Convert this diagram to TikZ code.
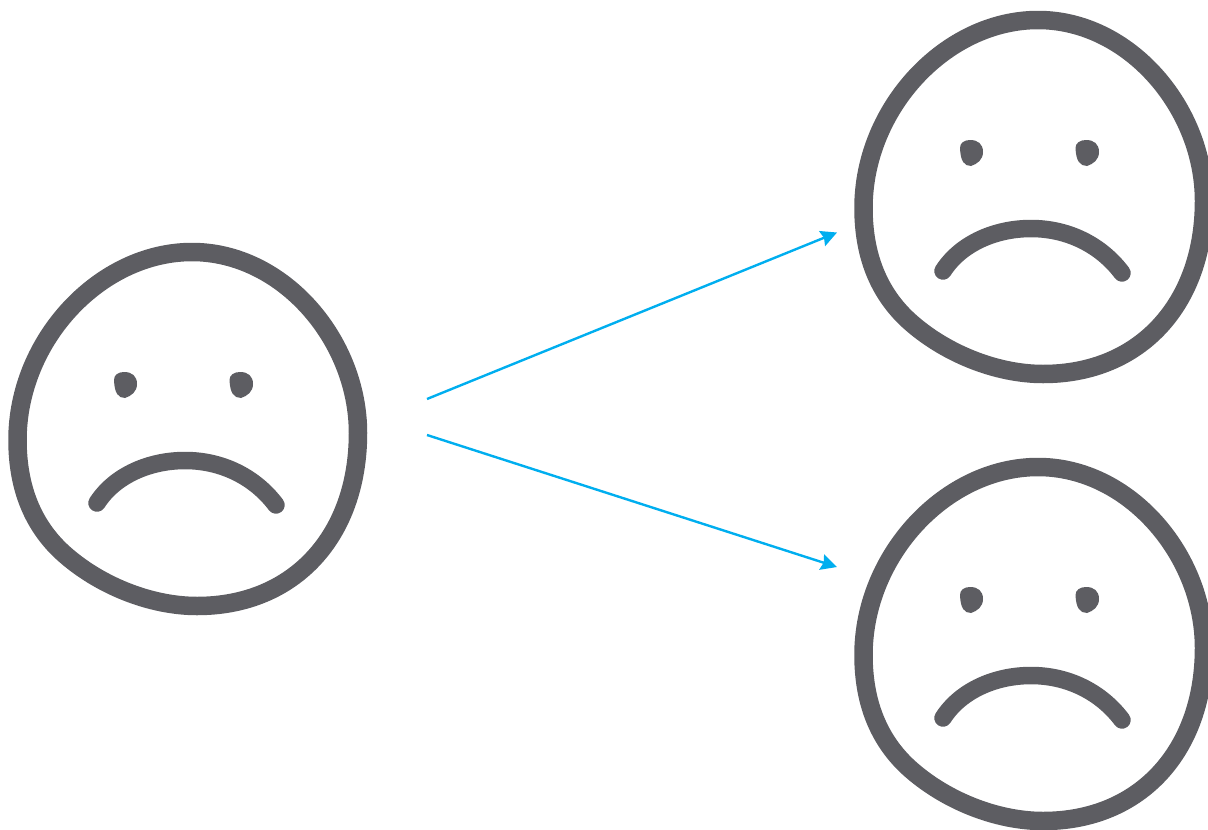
\documentclass[tikz,border=0pt]{standalone}
\usetikzlibrary{arrows.meta}
\definecolor{facegray}{HTML}{5D5D62}
\definecolor{arrowblue}{HTML}{00AEEF}
\tikzset{
  outline/.style={draw=facegray,line width=18.5pt,line join=round},
  mouthline/.style={draw=facegray,line width=17.5pt,line cap=round},
  eyeblob/.style={fill=facegray,draw=none},
  link/.style={draw=arrowblue,line width=2.4pt,-{Stealth[length=16pt,width=16pt,inset=2pt]}},
  pics/sadface/.style={code={
    \draw[outline] (192,252)
      .. controls (283,252) and (358,340) .. (358,433)
      .. controls (358,535) and (295,606) .. (197,606)
      .. controls (150,606) and (98,585) .. (62,552)
      .. controls (33,525) and (17.5,488) .. (17.5,440)
      .. controls (17.5,340) and (100,252) .. (192,252) -- cycle;
    \draw[mouthline] (97,503)
      .. controls (115,475) and (150,460.5) .. (185,460.5)
      .. controls (222,460.5) and (255,477) .. (276,505);
    \fill[eyeblob] (114,380) .. controls (114,375) and (118,372) .. (124,372)
      .. controls (132,372) and (137,376) .. (137,384)
      .. controls (137,392) and (131,396) .. (125,398)
      .. controls (118,398) and (114.5,393) .. (114,380) -- cycle;
    \fill[eyeblob] (229.5,380) .. controls (229.5,375) and (234,372) .. (240,372)
      .. controls (248,372) and (253,376) .. (253,384)
      .. controls (253,392) and (247,396) .. (241,398)
      .. controls (234,398) and (230,393) .. (229.5,380) -- cycle;
  }}
}
\begin{document}
\begin{tikzpicture}[x=1pt,y=-1pt]
  \useasboundingbox (0,0) rectangle (1208,830);
  \clip (0,0) rectangle (1208,830);
  \pic (left) at (0,0) {sadface};
  \pic (upper) at (846,-232) {sadface};
  \pic (lower) at (846,215) {sadface};
  \coordinate (upstart) at (427,399);
  \coordinate (upend) at (837,232.5);
  \coordinate (downstart) at (427,435);
  \coordinate (downend) at (837,567);
  \draw[link] (upstart) -- (upend);
  \draw[link] (downstart) -- (downend);
\end{tikzpicture}
\end{document}
